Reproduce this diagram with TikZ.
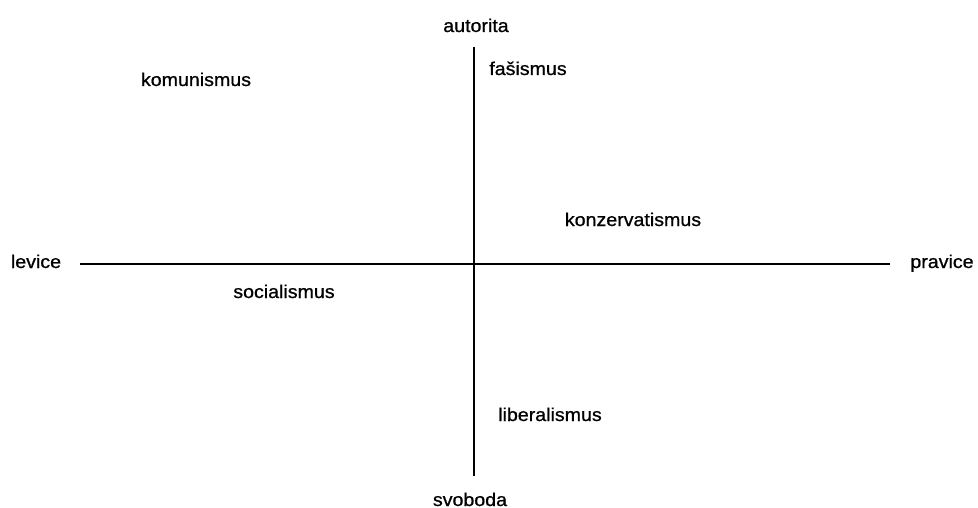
\documentclass[tikz,border=0pt]{standalone}
\usepackage{fontspec}
\setmainfont{Liberation Sans}[FakeStretch=1.06,FakeBold=0.8]
\begin{document}
\begin{tikzpicture}[x=1pt,y=-1pt,
  lbl/.style={anchor=base,inner sep=0pt,font=\fontsize{18.5}{20}\selectfont},
  axis/.style={line width=1.6pt,black}]
\useasboundingbox (0,0) rectangle (978,508);
\coordinate (vtop) at (474,47);
\coordinate (vbot) at (474,476);
\coordinate (hl) at (80,264);
\coordinate (hr) at (890,264);
\draw[axis] (vtop) -- (vbot);
\draw[axis] (hl) -- (hr);
\node[lbl] (autorita) at (476,32) {autorita};
\node[lbl] (svoboda) at (470,506) {svoboda};
\node[lbl] (levice) at (36,268) {levice};
\node[lbl] (pravice) at (942,268) {pravice};
\node[lbl] (komunismus) at (196,86) {komunismus};
\node[lbl] (fasismus) at (528,75) {fašismus};
\node[lbl] (konzervatismus) at (633,226) {konzervatismus};
\node[lbl] (socialismus) at (284,298) {socialismus};
\node[lbl] (liberalismus) at (550,421) {liberalismus};
\end{tikzpicture}
\end{document}
